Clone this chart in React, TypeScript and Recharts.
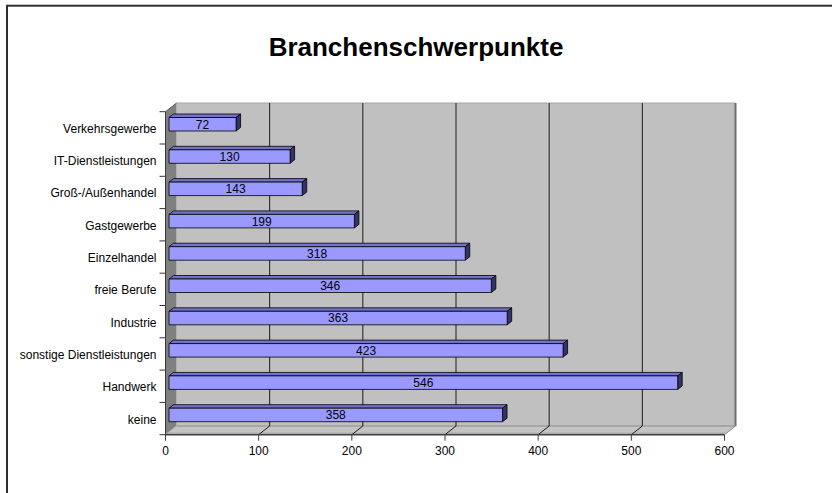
import React from 'react';
import { BarChart, Bar, XAxis, YAxis, ReferenceArea, LabelList } from 'recharts';

// Branchen, from the bottom row upwards
const categories = [
  'keine',
  'Handwerk',
  'sonstige Dienstleistungen',
  'Industrie',
  'freie Berufe',
  'Einzelhandel',
  'Gastgewerbe',
  'Groß-/Außenhandel',
  'IT-Dienstleistungen',
  'Verkehrsgewerbe',
];
const counts = [358, 546, 423, 363, 346, 318, 199, 143, 130, 72];
const valueTicks = [0, 100, 200, 300, 400, 500, 600];
const chartTitle = 'Branchenschwerpunkte';

const data = categories.map((name, i) => ({ name, value: counts[i] }));

const W = 832;
const H = 493;
const FONT = '"Liberation Sans", Arial, Helvetica, sans-serif';

// oblique depth of the 3D box (back wall offset)
const DEPTH_X = 11;
const DEPTH_Y = 8.7;
// bar placement inside the depth and bar's own thickness
const BAR_SHIFT_X = 3.5;
const BAR_SHIFT_Y = 3.2;
const BAR_DEPTH_X = 4.5;
const BAR_DEPTH_Y = 3.5;
const BAR_SIZE = 13.5;

const Walls = (props: any) => {
  const { x, y, width, height } = props;
  const x0 = x;
  const x1 = x + width;
  const y0 = y;
  const y1 = y + height;
  const max = valueTicks[valueTicks.length - 1];
  const px = (v: number) => x0 + (v / max) * width;
  const step = height / categories.length;
  const inner = valueTicks.slice(1, -1);
  return (
    <g>
      {/* back wall */}
      <rect x={x0 + DEPTH_X} y={y0 - DEPTH_Y} width={width} height={height} fill="#C0C0C0" />
      <line x1={x0 + DEPTH_X} y1={y0 - DEPTH_Y} x2={x1 + DEPTH_X} y2={y0 - DEPTH_Y} stroke="#A6A6A6" strokeWidth={1} />
      <line x1={x1 + DEPTH_X} y1={y0 - DEPTH_Y} x2={x1 + DEPTH_X} y2={y1 - DEPTH_Y} stroke="#6E6E6E" strokeWidth={2} />
      {/* floor */}
      <polygon
        points={`${x0},${y1} ${x1},${y1} ${x1 + DEPTH_X},${y1 - DEPTH_Y} ${x0 + DEPTH_X},${y1 - DEPTH_Y}`}
        fill="#C4C4C4"
      />
      <line x1={x0 + DEPTH_X} y1={y1 - DEPTH_Y} x2={x1 + DEPTH_X} y2={y1 - DEPTH_Y} stroke="#8C8C8C" strokeWidth={1} />
      <line x1={x1} y1={y1} x2={x1 + DEPTH_X} y2={y1 - DEPTH_Y} stroke="#8C8C8C" strokeWidth={1} />
      <line x1={x0} y1={y1 - 1.5} x2={x1} y2={y1 - 1.5} stroke="#A0A0A0" strokeWidth={1} />
      {/* left side wall */}
      <polygon
        points={`${x0},${y0} ${x0 + DEPTH_X},${y0 - DEPTH_Y} ${x0 + DEPTH_X},${y1 - DEPTH_Y} ${x0},${y1}`}
        fill="#808080"
      />
      <line x1={x0} y1={y0} x2={x0 + DEPTH_X} y2={y0 - DEPTH_Y} stroke="#5A5A5A" strokeWidth={1} />
      <line x1={x0} y1={y1} x2={x0 + DEPTH_X} y2={y1 - DEPTH_Y} stroke="#B0B0B0" strokeWidth={1} />
      {/* value gridlines on back wall and floor */}
      {inner.map((v) => (
        <g key={v} stroke="#1A1A1A" strokeWidth={1}>
          <line x1={px(v) + DEPTH_X} y1={y0 - DEPTH_Y} x2={px(v) + DEPTH_X} y2={y1 - DEPTH_Y} />
          <line x1={px(v) + DEPTH_X} y1={y1 - DEPTH_Y} x2={px(v)} y2={y1} />
        </g>
      ))}
      {/* category divider ticks */}
      {categories.map((_, i) => (
        <line key={i} x1={x0 - 6} y1={y0 + i * step} x2={x0} y2={y0 + i * step} stroke="#333" strokeWidth={1} />
      ))}
      <line x1={x0 - 6} y1={y1} x2={x0} y2={y1} stroke="#333" strokeWidth={1} />
    </g>
  );
};

const BoxBar = (props: any) => {
  const { x, y, width, height } = props;
  if (!(width > 0)) return null;
  const fx = x + BAR_SHIFT_X;
  const fy = y - BAR_SHIFT_Y;
  const h = height;
  const rx = fx + width;
  return (
    <g stroke="#000" strokeWidth={0.8} strokeLinejoin="round">
      <polygon
        points={`${fx},${fy} ${fx + BAR_DEPTH_X},${fy - BAR_DEPTH_Y} ${rx + BAR_DEPTH_X},${fy - BAR_DEPTH_Y} ${rx},${fy}`}
        fill="#7272CC"
      />
      <polygon
        points={`${rx},${fy} ${rx + BAR_DEPTH_X},${fy - BAR_DEPTH_Y} ${rx + BAR_DEPTH_X},${fy + h - BAR_DEPTH_Y} ${rx},${fy + h}`}
        fill="#333366"
      />
      <rect x={fx} y={fy} width={width} height={h} fill="#9999FF" />
    </g>
  );
};

const BarValue = (props: any) => {
  const { x, y, width, height, value } = props;
  return (
    <text
      x={x + BAR_SHIFT_X + width / 2}
      y={y - BAR_SHIFT_Y + height / 2 + 4.4}
      textAnchor="middle"
      fontSize={12}
      fontFamily={FONT}
      fill="#000"
    >
      {value}
    </text>
  );
};

const CategoryTick = (props: any) => {
  const { x, y, payload } = props;
  return (
    <text x={x} y={y + 5} textAnchor="end" fontSize={12} fontFamily={FONT} fill="#000">
      {payload.value}
    </text>
  );
};

const ValueTick = (props: any) => {
  const { x, y, payload } = props;
  return (
    <text x={x} y={y + 12.3} textAnchor="middle" fontSize={12} fontFamily={FONT} fill="#000">
      {payload.value}
    </text>
  );
};

export default function App() {
  return (
    <div style={{ position: 'absolute', left: 0, top: 0, width: W, height: H, background: '#fff' }}>
      <BarChart
        width={W}
        height={H}
        data={data}
        layout="vertical"
        barSize={BAR_SIZE}
        margin={{ top: 111.7, right: 107.5, bottom: 28.3, left: 15.5 }}
      >
        <XAxis
          type="number"
          domain={[0, 600]}
          ticks={valueTicks}
          interval={0}
          height={30}
          axisLine={{ stroke: '#404040', strokeWidth: 1.5 }}
          tickLine={{ stroke: '#404040' }}
          tickSize={6}
          tick={<ValueTick />}
        />
        <YAxis
          type="category"
          dataKey="name"
          reversed
          width={150}
          interval={0}
          axisLine={{ stroke: '#3A3A3A', strokeWidth: 1 }}
          tickLine={false}
          tickSize={6}
          tickMargin={3}
          tick={<CategoryTick />}
        />
        <ReferenceArea x1={0} x2={600} shape={<Walls />} fillOpacity={1} />
        <Bar dataKey="value" isAnimationActive={false} shape={<BoxBar />}>
          <LabelList dataKey="value" content={<BarValue />} />
        </Bar>
      </BarChart>
      <svg
        width={W}
        height={H}
        style={{ position: 'absolute', left: 0, top: 0, pointerEvents: 'none' }}
      >
        <rect x={7} y={5.7} width={W + 20} height={H + 20} fill="none" stroke="#2E2E2E" strokeWidth={2} />
        <text
          x={W / 2}
          y={55.7}
          textAnchor="middle"
          fontSize={26}
          fontWeight="bold"
          fontFamily={FONT}
          fill="#000"
        >
          {chartTitle}
        </text>
      </svg>
    </div>
  );
}
